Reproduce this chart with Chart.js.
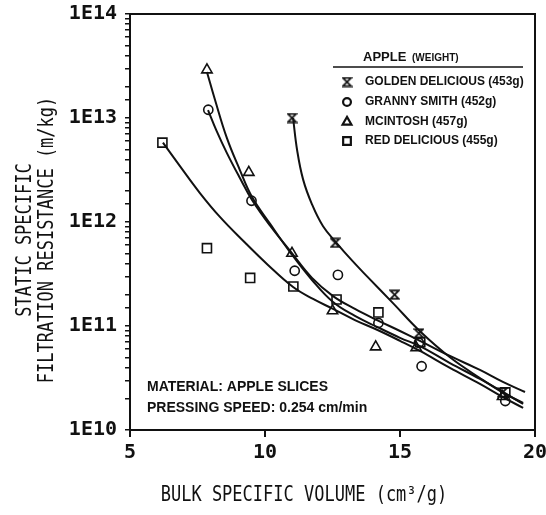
<!DOCTYPE html>
<html>
<head>
<meta charset="utf-8">
<script src="https://cdn.jsdelivr.net/npm/chart.js@4.4.1/dist/chart.umd.min.js"></script>
<style>
  html, body { margin: 0; padding: 0; background: #fff; }
  #wrap { width: 546px; height: 515px; }
</style>
</head>
<body>
<div id="wrap"><canvas id="chart"></canvas></div>
<script>
// Measured points: bulk specific volume (cm3/g) vs resistance (m/kg)
const goldenX = [11.0, 12.6, 14.8, 15.7, 18.8];
const goldenY = [1.0e13, 6.3e11, 2.0e11, 8.5e10, 2.3e10];

const grannyX = [7.9, 9.5, 11.1, 12.7, 14.2, 15.7, 15.8, 18.9];
const grannyY = [1.2e13, 1.6e12, 3.4e11, 3.1e11, 1.07e11, 6.9e10, 4.1e10, 1.9e10];

const mcintoshX = [7.85, 9.4, 11.0, 12.5, 14.1, 15.6, 18.8];
const mcintoshY = [2.9e13, 3.0e12, 5.0e11, 1.4e11, 6.3e10, 6.2e10, 2.1e10];

const redX = [6.2, 7.85, 9.45, 11.05, 12.65, 14.2, 15.75, 18.9];
const redY = [5.8e12, 5.6e11, 2.9e11, 2.4e11, 1.8e11, 1.35e11, 7.0e10, 2.3e10];

// Fitted curves, sampled along each line
const goldenFitX = [11.04, 11.19, 11.41, 11.74, 12.15, 12.67, 13.22, 13.78, 14.74, 15.74, 16.85, 17.96, 18.81, 19.56];
const goldenFitY = [1.0e13, 4.9e12, 2.57e12, 1.48e12, 9.1e11, 6.2e11, 4.27e11, 3.0e11, 1.66e11, 8.9e10, 5.0e10, 3.16e10, 2.29e10, 1.82e10];

const grannyFitX = [7.89, 8.19, 8.59, 9.07, 9.52, 10.19, 10.96, 11.74, 12.52, 13.33, 14.15, 15.0, 15.74, 16.85, 17.96, 18.81, 19.63];
const grannyFitY = [1.19e13, 7.7e12, 4.6e12, 2.65e12, 1.63e12, 9.2e11, 5.15e11, 2.9e11, 1.94e11, 1.46e11, 1.14e11, 8.95e10, 7.2e10, 5.15e10, 3.78e10, 2.9e10, 2.32e10];

const mcintoshFitX = [7.85, 8.15, 8.59, 9.07, 9.52, 10.19, 10.96, 11.74, 12.52, 13.33, 14.15, 15.0, 15.74, 16.85, 17.96, 18.81, 19.56];
const mcintoshFitY = [2.77e13, 1.49e13, 6.4e12, 3.16e12, 1.74e12, 9.6e11, 5.0e11, 2.77e11, 1.70e11, 1.25e11, 9.8e10, 7.7e10, 6.4e10, 4.4e10, 3.1e10, 2.32e10, 1.78e10];

const redFitX = [6.22, 6.85, 7.59, 8.33, 9.19, 10.11, 11.04, 11.78, 12.52, 13.33, 14.15, 15.0, 15.74, 16.85, 17.96, 18.81, 19.56];
const redFitY = [5.8e12, 3.45e12, 1.9e12, 1.12e12, 6.6e11, 3.86e11, 2.37e11, 1.82e11, 1.46e11, 1.14e11, 9.2e10, 7.2e10, 5.75e10, 3.95e10, 2.77e10, 2.07e10, 1.63e10];

const seriesLabels = ['GOLDEN DELICIOUS (453g)', 'GRANNY SMITH (452g)', 'MCINTOSH (457g)', 'RED DELICIOUS (455g)'];
const xTicks = [5, 10, 15, 20];
const noteLines = ['MATERIAL: APPLE SLICES', 'PRESSING SPEED: 0.254 cm/min'];

const INK = '#111';
const MONO = '"DejaVu Sans Mono", monospace';
const SANS = '"Liberation Sans", Arial, sans-serif';

const toPoints = (xs, ys) => xs.map((x, i) => ({ x: x, y: ys[i] }));

// hourglass marker for Golden Delicious
function hourglass(size, lw) {
    const c = document.createElement('canvas');
    c.width = size; c.height = size;
    const g = c.getContext('2d');
    const p = lw / 2 + 0.5;
    g.strokeStyle = INK;
    g.lineWidth = lw;
    g.lineJoin = 'miter';
    g.beginPath();
    g.moveTo(p, p);
    g.lineTo(size - p, p);
    g.lineTo(p, size - p);
    g.lineTo(size - p, size - p);
    g.closePath();
    g.stroke();
    return c;
}
const hourglassMark = hourglass(11, 1.7);

const markers = [
    { pointStyle: hourglassMark, radius: 5.5 },
    { pointStyle: 'circle', radius: 4.6 },
    { pointStyle: 'triangle', radius: 6 },
    { pointStyle: 'rect', radius: 6.4 }
];

function fitDataset(xs, ys) {
    return {
        data: toPoints(xs, ys),
        showLine: true,
        borderColor: INK,
        borderWidth: 2,
        pointRadius: 0,
        tension: 0.4,
        fill: false
    };
}

function pointDataset(xs, ys, i) {
    return {
        label: seriesLabels[i],
        data: toPoints(xs, ys),
        showLine: false,
        pointStyle: markers[i].pointStyle,
        pointRadius: markers[i].radius,
        pointBorderWidth: 1.6,
        pointBorderColor: INK,
        pointBackgroundColor: 'rgba(0,0,0,0)',
        isMarker: true
    };
}

function drawText(ctx, text, x, y, font, opts) {
    opts = opts || {};
    ctx.save();
    ctx.translate(x, y);
    if (opts.rotate) ctx.rotate(-Math.PI / 2);
    ctx.scale(1, opts.stretch || 1);
    ctx.font = font;
    ctx.fillStyle = INK;
    ctx.textAlign = opts.align || 'center';
    ctx.textBaseline = 'middle';
    ctx.fillText(text, 0, 0);
    ctx.restore();
}

// frame, axis titles, legend box and note
const decorations = {
    id: 'decorations',
    afterDraw(chart) {
        const ctx = chart.ctx;
        const a = chart.chartArea;

        ctx.save();
        ctx.strokeStyle = INK;
        ctx.lineWidth = 2;
        ctx.strokeRect(a.left, a.top, a.right - a.left, a.bottom - a.top);
        ctx.restore();

        drawText(ctx, 'BULK SPECIFIC VOLUME (cm\u00B3/g)', 304, 496, '17px ' + MONO, { stretch: 1.2 });
        drawText(ctx, 'STATIC SPECIFIC', 26, 240, '17px ' + MONO, { rotate: true, stretch: 1.2 });
        drawText(ctx, 'FILTRATION RESISTANCE (m/kg)', 48, 240, '17px ' + MONO, { rotate: true, stretch: 1.2 });

        // legend
        drawText(ctx, 'APPLE', 363, 57, 'bold 13px ' + SANS, { align: 'left' });
        ctx.font = 'bold 13px ' + SANS;
        const w = ctx.measureText('APPLE ').width;
        drawText(ctx, '(WEIGHT)', 363 + w + 2, 58, 'bold 10px ' + SANS, { align: 'left' });
        ctx.save();
        ctx.strokeStyle = INK;
        ctx.lineWidth = 1.5;
        ctx.beginPath();
        ctx.moveTo(333, 67);
        ctx.lineTo(523, 67);
        ctx.stroke();
        ctx.restore();

        const rows = [82, 102, 122, 141];
        let r = 0;
        chart.data.datasets.forEach((ds) => {
            if (!ds.isMarker) return;
            const y = rows[r];
            ctx.save();
            ctx.strokeStyle = INK;
            ctx.fillStyle = 'rgba(0,0,0,0)';
            ctx.lineWidth = 2.2;
            Chart.helpers.drawPoint(ctx, {
                pointStyle: ds.pointStyle,
                radius: ds.pointRadius * 0.85,
                rotation: 0,
                borderWidth: 2.2
            }, 347, y);
            ctx.restore();
            drawText(ctx, ds.label, 365, y, 'bold 12px ' + SANS, { align: 'left' });
            r++;
        });

        noteLines.forEach((line, i) => {
            drawText(ctx, line, 147, 387 + i * 21, 'bold 14px ' + SANS, { align: 'left' });
        });
    }
};

const datasets = [
    fitDataset(goldenFitX, goldenFitY),
    fitDataset(grannyFitX, grannyFitY),
    fitDataset(mcintoshFitX, mcintoshFitY),
    fitDataset(redFitX, redFitY),
    pointDataset(goldenX, goldenY, 0),
    pointDataset(grannyX, grannyY, 1),
    pointDataset(mcintoshX, mcintoshY, 2),
    pointDataset(redX, redY, 3)
];

new Chart(document.getElementById('chart'), {
    type: 'scatter',
    data: { datasets: datasets },
    options: {
        responsive: true,
        maintainAspectRatio: false,
        animation: false,
        layout: { padding: { top: 14, right: 11, left: 0, bottom: 0 } },
        plugins: {
            legend: { display: false },
            tooltip: { enabled: false }
        },
        scales: {
            x: {
                type: 'linear',
                min: 5,
                max: 20,
                afterFit: (scale) => {
                    scale.height = 85;
                    scale.paddingLeft = 0;
                    scale.paddingRight = 0;
                },
                afterBuildTicks: (scale) => {
                    scale.ticks = xTicks.map(v => ({ value: v }));
                },
                border: { display: true, color: INK, width: 2 },
                grid: { drawOnChartArea: false, color: INK, tickLength: 7, lineWidth: 2 },
                ticks: {
                    color: INK,
                    padding: 4,
                    font: { family: MONO, size: 20, weight: 'bold' }
                }
            },
            y: {
                type: 'logarithmic',
                min: 1e10,
                max: 1e14,
                afterFit: (scale) => {
                    scale.width = 130;
                    scale.paddingTop = 0;
                    scale.paddingBottom = 0;
                },
                border: { display: true, color: INK, width: 2 },
                grid: { drawOnChartArea: false, color: INK, tickLength: 5, lineWidth: 1.5 },
                ticks: {
                    color: INK,
                    padding: 8,
                    autoSkip: false,
                    font: { family: MONO, size: 20, weight: 'bold' },
                    callback: (v) => {
                        const e = Math.log10(v);
                        return Math.abs(e - Math.round(e)) < 1e-9 ? '1E' + Math.round(e) : '';
                    }
                }
            }
        }
    },
    plugins: [decorations]
});
</script>
</body>
</html>
